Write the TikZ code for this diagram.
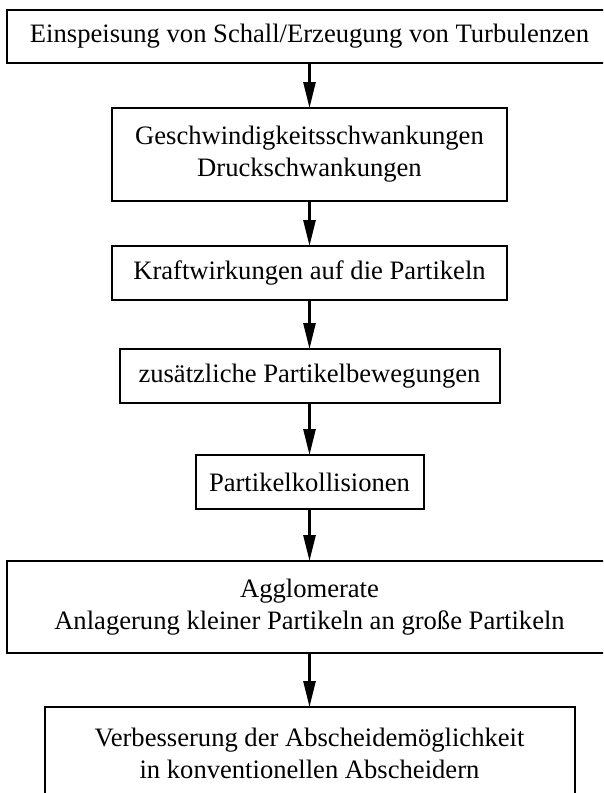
\documentclass[tikz,border=0pt]{standalone}
\usepackage{fontspec}
\setmainfont{Liberation Serif}
\usetikzlibrary{positioning, arrows.meta}

\begin{document}
\begin{tikzpicture}[
    x=1pt, y=-1pt,
    stage/.style={draw, line width=2pt, align=center, inner sep=4pt, outer sep=0pt,
        minimum height=54pt, font=\fontsize{26.6}{32}\selectfont},
    arrw/.style={-{Triangle[length=26pt, width=12pt]}, line width=2.6pt}
]
\useasboundingbox (0,0) rectangle (603,793);
\clip (0,0) rectangle (603,793);

% Chain of stages, each placed below the previous one
\node[stage, minimum width=605pt, minimum height=53pt] (schall) at (309.5,36.5)
    {Einspeisung von Schall/Erzeugung von Turbulenzen};
\node[stage, minimum width=395pt, minimum height=93pt, below=45pt of schall] (schwank)
    {Geschwindigkeitsschwankungen\\Druckschwankungen};
\node[stage, minimum width=395pt, below=45pt of schwank] (kraft)
    {Kraftwirkungen auf die Partikeln};
\node[stage, minimum width=380pt, below=49pt of kraft] (beweg)
    {zusätzliche Partikelbewegungen};
\node[stage, minimum width=228pt, below=52pt of beweg] (koll)
    {Partikelkollisionen};
\node[stage, minimum width=605pt, minimum height=92pt, below=52pt of koll] (agglo)
    {Agglomerate\\Anlagerung kleiner Partikeln an große Partikeln};
\node[stage, minimum width=530pt, minimum height=93pt, below=54pt of agglo] (abscheid)
    {Verbesserung der Abscheidemöglichkeit\\in konventionellen Abscheidern};

% Arrows between the stages
\draw[arrw] (schall) -- (schwank);
\draw[arrw] (schwank) -- (kraft);
\draw[arrw] (kraft) -- (beweg);
\draw[arrw] (beweg) -- (koll);
\draw[arrw] (koll) -- (agglo);
\draw[arrw] (agglo) -- (abscheid);

\end{tikzpicture}
\end{document}
